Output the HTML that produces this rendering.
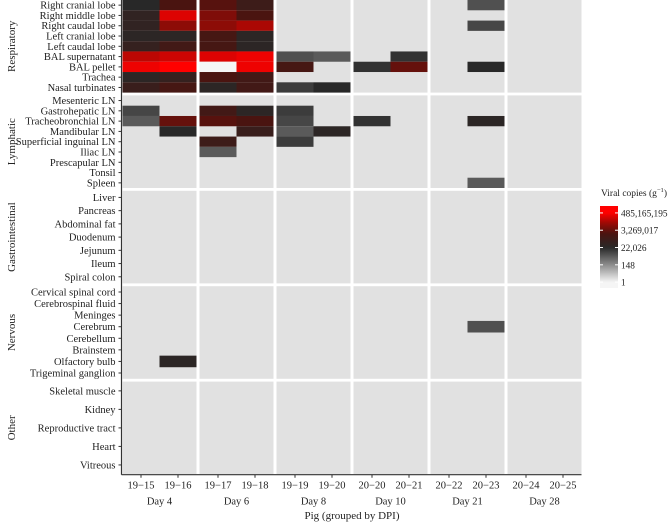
<!DOCTYPE html>
<html><head><meta charset="utf-8"><style>
body{margin:0;background:#fff;}
svg{display:block;font-family:"Liberation Serif",serif;}
</style></head><body>
<svg id="chart" width="669" height="523"></svg>
<script>
const pigs=["19-15","19-16","19-17","19-18","19-19","19-20","20-20","20-21","20-22","20-23","20-24","20-25"];
const days=["Day 4","Day 6","Day 8","Day 10","Day 21","Day 28"];
const groups=["Respiratory","Lymphatic","Gastrointestinal","Nervous","Other"];
const respTissues=["Right cranial lobe","Right middle lobe","Right caudal lobe","Left cranial lobe","Left caudal lobe","BAL supernatant","BAL pellet","Trachea","Nasal turbinates"];
const lymphTissues=["Mesenteric LN","Gastrohepatic LN","Tracheobronchial LN","Mandibular LN","Superficial inguinal LN","Iliac LN","Prescapular LN","Tonsil","Spleen"];
const giTissues=["Liver","Pancreas","Abdominal fat","Duodenum","Jejunum","Ileum","Spiral colon"];
const nervTissues=["Cervical spinal cord","Cerebrospinal fluid","Meninges","Cerebrum","Cerebellum","Brainstem","Olfactory bulb","Trigeminal ganglion"];
const otherTissues=["Skeletal muscle","Kidney","Reproductive tract","Heart","Vitreous"];
const _=null;
// natural-log viral copies per pig (columns follow pigs)
const respValues=[
[10,14,14.5,12.5,_,_,_,_,_,8,_,_],
[11,19,16,14,_,_,_,_,_,_,_,_],
[11,16.5,16.5,17.5,_,_,_,_,_,8.5,_,_],
[10.5,10.5,13.5,10.5,_,_,_,_,_,_,_,_],
[11.5,13,13.5,10.5,_,_,_,_,_,_,_,_],
[18,18.5,19,19.5,8,7.5,_,9.5,_,_,_,_],
[19.5,20.5,0,19.5,13.5,_,9.5,15,_,10,_,_],
[10.5,11.5,14,13,_,_,_,_,_,_,_,_],
[12,13.5,10.5,13,9,10,_,_,_,_,_,_]];
const lymphValues=[
[_,_,_,_,_,_,_,_,_,_,_,_],
[8.5,_,13,10.5,9,_,_,_,_,_,_,_],
[7.5,15,14.5,14,8.5,_,9.5,_,_,10.5,_,_],
[_,10,_,12,7.5,10.5,_,_,_,_,_,_],
[_,_,12.5,_,9,_,_,_,_,_,_,_],
[_,_,7.5,_,_,_,_,_,_,_,_,_],
[_,_,_,_,_,_,_,_,_,_,_,_],
[_,_,_,_,_,_,_,_,_,_,_,_],
[_,_,_,_,_,_,_,_,_,7.5,_,_]];
const giValues=giTissues.map(()=>pigs.map(()=>null));
const nervValues=[
[_,_,_,_,_,_,_,_,_,_,_,_],
[_,_,_,_,_,_,_,_,_,_,_,_],
[_,_,_,_,_,_,_,_,_,_,_,_],
[_,_,_,_,_,_,_,_,_,8,_,_],
[_,_,_,_,_,_,_,_,_,_,_,_],
[_,_,_,_,_,_,_,_,_,_,_,_],
[_,10.5,_,_,_,_,_,_,_,_,_,_],
[_,_,_,_,_,_,_,_,_,_,_,_]];
const otherValues=otherTissues.map(()=>pigs.map(()=>null));
const legendTicks=[20,15,10,5,0];
const legendLabels=["485,165,195","3,269,017","22,026","148","1"];

const rowsByGroup=[respTissues,lymphTissues,giTissues,nervTissues,otherTissues];
const valsByGroup=[respValues,lymphValues,giValues,nervValues,otherValues];
const svg=document.getElementById('chart');
const NS='http://www.w3.org/2000/svg';
function mk(t,a,p){const e=document.createElementNS(NS,t);for(const k in a)e.setAttribute(k,a[k]);(p||svg).appendChild(e);return e;}
const stops=[[0,[245,245,245]],[5,[140,140,140]],[10,[40,40,40]],[14,[74,20,16]],[17,[154,10,5]],[20,[255,0,0]],[22,[255,0,0]]];
function color(v){for(let i=0;i<stops.length-1;i++){const a=stops[i],b=stops[i+1];if(v<=b[0]){const t=Math.max(0,(v-a[0])/(b[0]-a[0]));return 'rgb('+a[1].map((c,j)=>Math.round(c+(b[1][j]-c)*t)).join(',')+')';}}return 'rgb(255,0,0)';}
const X0=122.5,PW=74,GAP=3,Y0=0,PH=92.6,VG=2.8;
function xCell(i){const f=Math.floor(i/2);return X0+f*(PW+GAP)+(i%2)*PW/2;}
function yPanel(g){return Y0+g*(PH+VG);}
groups.forEach((g,gi)=>{
  const rows=rowsByGroup[gi],vals=valsByGroup[gi],rh=PH/rows.length,py=yPanel(gi);
  days.forEach((d,di)=>{
    const p=mk('rect',{x:X0+di*(PW+GAP),y:py,width:PW,height:PH,fill:'#e1e1e1'});
    
    
  });
  rows.forEach((r,ri)=>{
    const y=py+ri*rh;
    vals[ri].forEach((v,ci)=>{
      if(v===null)return;
      const c=mk('rect',{x:xCell(ci),y:y,width:PW/2,height:rh,fill:color(v)});
      
      
    });
    const t=mk('text',{x:X0-7,y:y+rh/2+3.5,'text-anchor':'end','font-size':'10.5',fill:'#222'});
    t.textContent=r;
    
    
    mk('line',{x1:X0-4,x2:X0-1,y1:y+rh/2,y2:y+rh/2,stroke:'#333','stroke-width':1});
  });
  const cy=py+PH/2;
  const gt=mk('text',{x:0,y:0,transform:'translate(15,'+cy+') rotate(-90)','text-anchor':'middle','font-size':'11',fill:'#222'});
  gt.textContent=g;
  
  
});
const bottom=yPanel(4)+PH+0.5;
mk('line',{x1:X0-1,x2:X0-1,y1:0,y2:bottom,stroke:'#333','stroke-width':1.2});
mk('line',{x1:X0-1,x2:X0+6*(PW+GAP)-GAP,y1:bottom,y2:bottom,stroke:'#333','stroke-width':1.2});
pigs.forEach((p,i)=>{
  const cx=xCell(i)+PW/4;
  mk('line',{x1:cx,x2:cx,y1:bottom,y2:bottom+3,stroke:'#333'});
  const t=mk('text',{x:cx,y:bottom+14,'text-anchor':'middle','font-size':'10.5',fill:'#222'});
  t.textContent=p.replace('-','\u2212');
  
  
});
days.forEach((d,di)=>{
  const t=mk('text',{x:X0+di*(PW+GAP)+PW/2,y:bottom+30,'text-anchor':'middle','font-size':'10.5',fill:'#222'});
  t.textContent=d;
  
  
});
const xt=mk('text',{x:X0+(6*(PW+GAP)-GAP)/2,y:519,'text-anchor':'middle','font-size':'11',fill:'#222'});
xt.textContent='Pig (grouped by DPI)';


const LX=600,LW=18,LT=206,LB=288,LMIN=-1.7,LMAX=22;
function ly(v){return LB-(v-LMIN)/(LMAX-LMIN)*(LB-LT);}
const defs=mk('defs',{});
const grad=mk('linearGradient',{id:'lg',x1:0,y1:1,x2:0,y2:0},defs);
for(let v=LMIN;v<=LMAX;v+=0.5){mk('stop',{offset:((v-LMIN)/(LMAX-LMIN)),'stop-color':color(Math.max(0,v))},grad);}
const lt=mk('text',{x:601,y:196,'font-size':'9.5',fill:'#222'});
lt.innerHTML='Viral copies (g<tspan dy="-4" font-size="6.5">\u22121</tspan><tspan dy="4">)</tspan>';


const bar=mk('rect',{x:LX,y:LT,width:LW,height:LB-LT,fill:'url(#lg)'});


legendTicks.forEach((v,i)=>{
  const y=ly(v);
  mk('line',{x1:LX,x2:LX+3,y1:y,y2:y,stroke:'#fff'});
  mk('line',{x1:LX+LW-3,x2:LX+LW,y1:y,y2:y,stroke:'#fff'});
  const t=mk('text',{x:LX+LW+3,y:y+3.5,'font-size':'9.3',fill:'#222'});
  t.textContent=legendLabels[i];
  
  
});
</script>
</body></html>
